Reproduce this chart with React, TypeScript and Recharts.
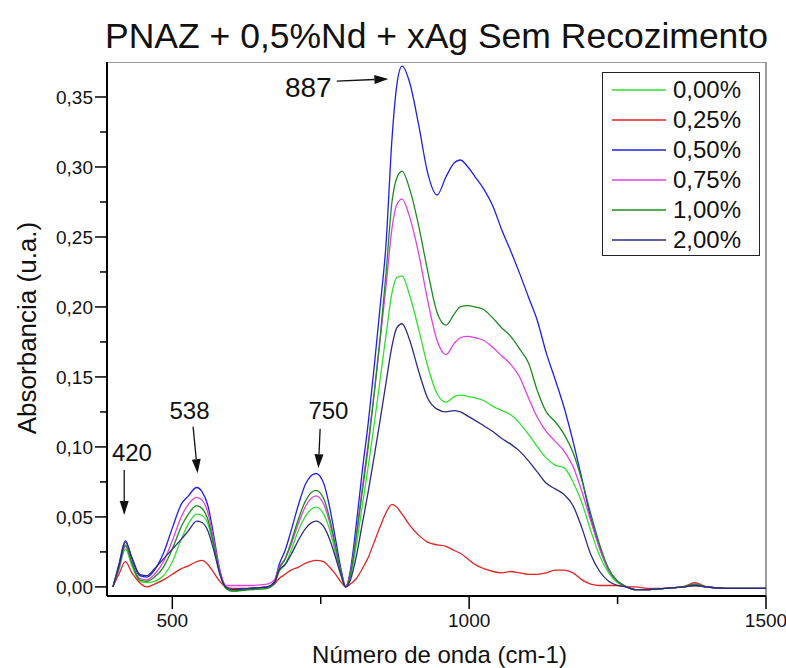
import React from "react";
import { LineChart, Line, XAxis, YAxis, ReferenceLine, ReferenceDot, Legend } from "recharts";

const FONT = "'Liberation Sans', Arial, sans-serif";

// wavenumber (cm-1)
const WAVENUMBER = [
  400, 410, 421, 432, 445, 457, 470, 485, 500, 515,
  527, 541, 550, 560, 570, 580, 590, 600, 630, 660,
  672, 680, 690, 700, 712, 725, 742, 755, 765, 775,
  785, 792, 800, 810, 820, 830, 840, 850, 860, 870,
  878, 887, 900, 915, 930, 946, 961, 975, 985, 998,
  1010, 1025, 1040, 1055, 1070, 1085, 1100, 1115, 1130, 1145,
  1160, 1175, 1190, 1205, 1220, 1235, 1250, 1265, 1280, 1300,
  1330, 1360, 1380, 1400, 1430, 1460, 1500,
];

const AG_000 = [
  0.000, 0.012, 0.027, 0.015, 0.004, 0.003, 0.004, 0.008, 0.018, 0.034,
  0.045, 0.052, 0.051, 0.045, 0.029, 0.010, -0.001, -0.003, -0.002, -0.001,
  0.002, 0.011, 0.016, 0.026, 0.040, 0.051, 0.057, 0.052, 0.041, 0.024,
  0.008, 0.000, 0.007, 0.030, 0.058, 0.086, 0.116, 0.148, 0.180, 0.210,
  0.221, 0.222, 0.208, 0.184, 0.158, 0.138, 0.132, 0.136, 0.137, 0.136,
  0.135, 0.133, 0.129, 0.126, 0.123, 0.117, 0.109, 0.100, 0.092, 0.087,
  0.085, 0.075, 0.060, 0.040, 0.022, 0.010, 0.003, 0.000, -0.002, -0.002,
  -0.001, 0.000, 0.002, 0.000, -0.001, -0.001, -0.001,
];

const AG_025 = [
  0.000, 0.009, 0.018, 0.010, 0.003, 0.000, 0.002, 0.005, 0.009, 0.013,
  0.015, 0.018, 0.019, 0.016, 0.010, 0.004, 0.000, -0.001, -0.001, 0.000,
  0.002, 0.006, 0.009, 0.012, 0.014, 0.017, 0.019, 0.018, 0.014, 0.009,
  0.003, 0.000, 0.002, 0.006, 0.013, 0.021, 0.032, 0.043, 0.053, 0.059,
  0.057, 0.052, 0.044, 0.037, 0.032, 0.030, 0.029, 0.026, 0.024, 0.020,
  0.016, 0.013, 0.011, 0.010, 0.011, 0.010, 0.009, 0.009, 0.010, 0.012,
  0.012, 0.010, 0.005, 0.002, 0.001, 0.001, 0.001, 0.000, 0.000, -0.001,
  -0.001, 0.000, 0.003, 0.000, -0.001, -0.001, -0.001,
];

const AG_050 = [
  0.000, 0.016, 0.033, 0.020, 0.008, 0.007, 0.012, 0.024, 0.042, 0.059,
  0.065, 0.071, 0.068, 0.058, 0.036, 0.012, 0.000, -0.002, -0.001, 0.000,
  0.004, 0.016, 0.026, 0.040, 0.058, 0.074, 0.081, 0.074, 0.057, 0.034,
  0.011, 0.000, 0.012, 0.045, 0.083, 0.117, 0.157, 0.200, 0.245, 0.320,
  0.358, 0.372, 0.360, 0.330, 0.296, 0.280, 0.293, 0.303, 0.305, 0.300,
  0.293, 0.284, 0.272, 0.255, 0.240, 0.224, 0.207, 0.190, 0.167, 0.148,
  0.128, 0.104, 0.077, 0.049, 0.028, 0.012, 0.004, 0.000, -0.002, -0.002,
  -0.001, 0.000, 0.001, 0.000, -0.001, -0.001, -0.001,
];

const AG_075 = [
  0.000, 0.013, 0.029, 0.017, 0.006, 0.005, 0.009, 0.018, 0.033, 0.050,
  0.059, 0.064, 0.062, 0.053, 0.033, 0.012, 0.001, 0.001, 0.001, 0.002,
  0.005, 0.014, 0.020, 0.030, 0.045, 0.058, 0.065, 0.059, 0.046, 0.027,
  0.009, 0.000, 0.010, 0.038, 0.071, 0.103, 0.138, 0.176, 0.215, 0.256,
  0.273, 0.277, 0.264, 0.238, 0.205, 0.176, 0.166, 0.174, 0.178, 0.179,
  0.178, 0.176, 0.171, 0.165, 0.159, 0.150, 0.135, 0.121, 0.111, 0.104,
  0.097, 0.086, 0.068, 0.047, 0.027, 0.012, 0.004, 0.000, -0.002, -0.002,
  -0.001, 0.000, 0.001, 0.000, -0.001, -0.001, -0.001,
];

const AG_100 = [
  0.000, 0.014, 0.030, 0.017, 0.005, 0.004, 0.007, 0.014, 0.027, 0.043,
  0.052, 0.058, 0.056, 0.048, 0.030, 0.010, -0.001, -0.003, -0.002, -0.001,
  0.003, 0.013, 0.020, 0.032, 0.048, 0.062, 0.069, 0.063, 0.049, 0.029,
  0.009, 0.000, 0.009, 0.036, 0.068, 0.100, 0.138, 0.178, 0.224, 0.275,
  0.292, 0.297, 0.284, 0.258, 0.226, 0.196, 0.187, 0.195, 0.200, 0.201,
  0.200, 0.198, 0.192, 0.185, 0.179, 0.170, 0.160, 0.140, 0.125, 0.118,
  0.109, 0.096, 0.076, 0.052, 0.030, 0.013, 0.004, 0.000, -0.002, -0.002,
  -0.001, 0.000, 0.002, 0.000, -0.001, -0.001, -0.001,
];

const AG_200 = [
  0.000, 0.015, 0.032, 0.021, 0.009, 0.008, 0.013, 0.020, 0.027, 0.034,
  0.040, 0.047, 0.046, 0.040, 0.026, 0.009, 0.000, -0.002, -0.001, 0.000,
  0.003, 0.012, 0.016, 0.023, 0.033, 0.042, 0.047, 0.043, 0.034, 0.021,
  0.007, 0.000, 0.005, 0.022, 0.045, 0.068, 0.093, 0.119, 0.146, 0.172,
  0.185, 0.188, 0.176, 0.154, 0.135, 0.127, 0.125, 0.126, 0.125, 0.122,
  0.119, 0.115, 0.111, 0.106, 0.102, 0.097, 0.090, 0.082, 0.074, 0.070,
  0.066, 0.058, 0.042, 0.023, 0.011, 0.004, 0.001, 0.000, -0.002, -0.002,
  -0.001, 0.000, 0.001, 0.000, -0.001, -0.001, -0.001,
];

const SERIES = [
  { key: "ag000", name: "0,00%", color: "#2fe02f", values: AG_000 },
  { key: "ag025", name: "0,25%", color: "#e02424", values: AG_025 },
  { key: "ag050", name: "0,50%", color: "#1f1fe6", values: AG_050 },
  { key: "ag075", name: "0,75%", color: "#e040e0", values: AG_075 },
  { key: "ag100", name: "1,00%", color: "#1f8a1f", values: AG_100 },
  { key: "ag200", name: "2,00%", color: "#2c2c84", values: AG_200 },
];

const X_TICKS = [500, 750, 1000, 1250, 1500];
const X_LABELED = [500, 1000, 1500];
const Y_TICKS = [0, 0.025, 0.05, 0.075, 0.1, 0.125, 0.15, 0.175, 0.2, 0.225, 0.25, 0.275, 0.3, 0.325, 0.35];
const Y_LABELED = [0, 0.05, 0.1, 0.15, 0.2, 0.25, 0.3, 0.35];

const X_DOMAIN: [number, number] = [390, 1500];
const Y_DOMAIN: [number, number] = [-0.0065, 0.375];

// peak annotations (data coordinates)
const PEAK_TEXT = ["420", "538", "750", "887"];
const PEAK_TEXT_X = [432, 529, 763, 729];
const PEAK_TEXT_Y = [0.0964, 0.1264, 0.1264, 0.3574];
const PEAK_FONT = [24, 24, 24, 28];
const ARROW_FROM = [
  { x: 419, y: 0.0836 }, { x: 535, y: 0.1145 }, { x: 749, y: 0.1129 }, { x: 777, y: 0.3614 },
];
const ARROW_TO = [
  { x: 419, y: 0.0514 }, { x: 542.6, y: 0.0812 }, { x: 746, y: 0.0848 }, { x: 864, y: 0.3629 },
];

const data = WAVENUMBER.map((w, i) => {
  const row: Record<string, number> = { w };
  SERIES.forEach((s) => { row[s.key] = s.values[i]; });
  return row;
});

const isIn = (list: number[], v: number) => list.some((t) => Math.abs(t - v) < 1e-9);

function YTick({ x, y, payload }: any) {
  const major = isIn(Y_LABELED, payload.value);
  return (
    <g>
      <line x1={x} y1={y} x2={x - (major ? 12 : 7)} y2={y} stroke="#000" strokeWidth={1.5} />
      {major && (
        <text x={x - 14} y={y} dy="0.36em" textAnchor="end" fontSize={19} fill="#111" fontFamily={FONT}>
          {payload.value.toFixed(2).replace(".", ",")}
        </text>
      )}
    </g>
  );
}

function XTick({ x, y, payload }: any) {
  const major = isIn(X_LABELED, payload.value);
  return (
    <g>
      <line x1={x} y1={y} x2={x} y2={y + (major ? 13 : 8)} stroke="#000" strokeWidth={1.5} />
      {major && (
        <text x={x} y={y + 31} textAnchor="middle" fontSize={19} fill="#111" fontFamily={FONT}>
          {payload.value}
        </text>
      )}
    </g>
  );
}

function Arrow(props: any) {
  const { x1, y1, x2, y2 } = props;
  const ang = Math.atan2(y2 - y1, x2 - x1);
  const len = 14;
  const half = 4.5;
  const bx = x2 - len * Math.cos(ang);
  const by = y2 - len * Math.sin(ang);
  const px = -Math.sin(ang) * half;
  const py = Math.cos(ang) * half;
  return (
    <g>
      <line x1={x1} y1={y1} x2={bx} y2={by} stroke="#111" strokeWidth={1.3} />
      <polygon points={`${x2},${y2} ${bx + px},${by + py} ${bx - px},${by - py}`} fill="#111" />
    </g>
  );
}

function LegendBox({ payload }: any) {
  return (
    <div style={{
      border: "1.5px solid #222", background: "#fff",
      padding: "2px 6px 0 9px", width: 141, boxSizing: "content-box",
      fontFamily: FONT,
    }}>
      {(payload || []).map((p: any) => (
        <div key={p.value} style={{ display: "flex", alignItems: "center", height: 30 }}>
          <svg width={54} height={4} style={{ flex: "none" }}>
            <line x1={0} y1={2} x2={54} y2={2} stroke={p.color} strokeWidth={1.5} />
          </svg>
          <span style={{ marginLeft: 7, fontSize: 24, color: "#111", lineHeight: "30px" }}>{p.value}</span>
        </div>
      ))}
    </div>
  );
}

export default function App() {
  return (
    <div style={{ position: "absolute", left: 0, top: 0, width: 786, height: 668, background: "#fff", fontFamily: FONT }}>
      <div style={{
        position: "absolute", left: 77, top: 18, width: 719, textAlign: "center",
        fontSize: 35.5, lineHeight: "36px", color: "#111", whiteSpace: "nowrap",
      }}>
        PNAZ + 0,5%Nd + xAg Sem Recozimento
      </div>

      <div style={{ position: "absolute", left: 0, top: 62 }}>
        <LineChart
          width={786}
          height={606}
          data={data}
          margin={{ top: 0, right: 20, left: 17, bottom: 12 }}
          style={{ fontFamily: FONT }}
        >
          <XAxis
            dataKey="w"
            type="number"
            domain={X_DOMAIN}
            allowDataOverflow
            ticks={X_TICKS}
            interval={0}
            tick={<XTick />}
            tickLine={false}
            tickSize={0}
            tickMargin={0}
            axisLine={{ stroke: "#000", strokeWidth: 2 }}
            height={60}
          />
          <YAxis
            type="number"
            domain={Y_DOMAIN}
            allowDataOverflow
            ticks={Y_TICKS}
            interval={0}
            tick={<YTick />}
            tickLine={false}
            tickSize={0}
            tickMargin={0}
            axisLine={{ stroke: "#000", strokeWidth: 2 }}
            width={90}
          />
          <ReferenceLine y={Y_DOMAIN[1]} stroke="#7a7a7a" strokeWidth={1.5} />
          <ReferenceLine x={X_DOMAIN[1]} stroke="#7a7a7a" strokeWidth={1.5} />

          {SERIES.map((s) => (
            <Line
              key={s.key}
              type="monotone"
              dataKey={s.key}
              name={s.name}
              stroke={s.color}
              strokeWidth={1.3}
              dot={false}
              activeDot={false}
              isAnimationActive={false}
            />
          ))}

          {PEAK_TEXT.map((t, i) => (
            <ReferenceLine
              key={"arrow" + t}
              segment={[ARROW_FROM[i], ARROW_TO[i]]}
              shape={(p: any) => <Arrow {...p} />}
            />
          ))}
          {PEAK_TEXT.map((t, i) => (
            <ReferenceDot
              key={"lbl" + t}
              x={PEAK_TEXT_X[i]}
              y={PEAK_TEXT_Y[i]}
              r={1}
              shape={(p: any) => (
                <text x={p.cx} y={p.cy} dy="0.36em" textAnchor="middle" fontSize={PEAK_FONT[i]} fill="#111" fontFamily={FONT}>
                  {t}
                </text>
              )}
            />
          ))}

          <Legend
            layout="vertical"
            align="center"
            verticalAlign="middle"
            content={<LegendBox />}
            wrapperStyle={{ position: "absolute", top: 10, left: 602, width: "auto", height: "auto" }}
          />
        </LineChart>
      </div>

      <div style={{
        position: "absolute", left: 107, top: 643, width: 665, textAlign: "center",
        fontSize: 24, lineHeight: "24px", color: "#111", whiteSpace: "nowrap",
      }}>
        Número de onda (cm-1)
      </div>
      <div style={{
        position: "absolute", left: 27, top: 328, transform: "translate(-50%, -50%) rotate(-90deg)",
        fontSize: 26, lineHeight: "26px", color: "#111", whiteSpace: "nowrap",
      }}>
        Absorbancia (u.a.)
      </div>
    </div>
  );
}
